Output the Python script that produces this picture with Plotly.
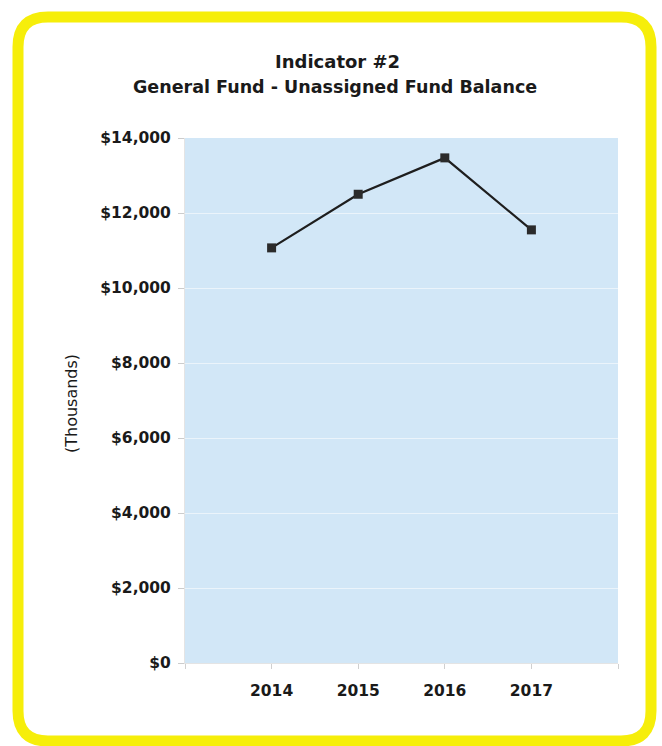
import plotly.graph_objects as go

# Fund balance data (in thousands of dollars)
years = [2014, 2015, 2016, 2017]
balance = [11070, 12500, 13470, 11550]

x_tickvals = [2013, 2014, 2015, 2016, 2017, 2018]
x_ticktext = ["", "2014", "2015", "2016", "2017", ""]
y_tickvals = [0, 2000, 4000, 6000, 8000, 10000, 12000, 14000]
y_ticktext = ["$0", "$2,000", "$4,000", "$6,000", "$8,000", "$10,000", "$12,000", "$14,000"]

W, H = 662, 746
ML, MR, MT, MB = 185, 44, 138, 83
PW, PH = W - ML - MR, H - MT - MB


def px(x):
    return (x - ML) / PW


def py(y):
    return (H - MB - y) / PH


def rounded_rect(x0, y0, x1, y1, r):
    # path in paper coordinates from pixel corners
    pts = [
        f"M {px(x0 + r)} {py(y0)}",
        f"L {px(x1 - r)} {py(y0)}",
        f"Q {px(x1)} {py(y0)} {px(x1)} {py(y0 + r)}",
        f"L {px(x1)} {py(y1 - r)}",
        f"Q {px(x1)} {py(y1)} {px(x1 - r)} {py(y1)}",
        f"L {px(x0 + r)} {py(y1)}",
        f"Q {px(x0)} {py(y1)} {px(x0)} {py(y1 - r)}",
        f"L {px(x0)} {py(y0 + r)}",
        f"Q {px(x0)} {py(y0)} {px(x0 + r)} {py(y0)}",
        "Z",
    ]
    return " ".join(pts)


fig = go.Figure()
fig.add_trace(go.Scatter(
    x=years, y=balance,
    mode="lines+markers",
    line=dict(color="#1e1e1e", width=2.2),
    marker=dict(symbol="square", size=9, color="#2b2b2b"),
    showlegend=False,
    hoverinfo="x+y",
))

fig.update_layout(
    width=W, height=H,
    margin=dict(l=ML, r=MR, t=MT, b=MB),
    paper_bgcolor="white",
    plot_bgcolor="#d2e7f7",
    font=dict(family="DejaVu Sans", color="#1a1a1a"),
    shapes=[dict(
        type="path", xref="paper", yref="paper",
        path=rounded_rect(18, 17, 651, 741, 30),
        line=dict(color="#f6ee0a", width=11),
        fillcolor="rgba(0,0,0,0)",
        layer="below",
    )],
    annotations=[
        dict(text="<b>Indicator #2</b>", xref="paper", yref="paper",
             x=px(337), y=py(62), xanchor="center", yanchor="middle", showarrow=False,
             font=dict(size=18, family="DejaVu Sans", color="#1a1a1a")),
        dict(text="<b>General Fund - Unassigned Fund Balance</b>", xref="paper", yref="paper",
             x=px(335), y=py(87), xanchor="center", yanchor="middle", showarrow=False,
             font=dict(size=17.5, family="DejaVu Sans", color="#1a1a1a")),
        dict(text="(Thousands)", xref="paper", yref="paper",
             x=px(72), y=py(404), xanchor="center", yanchor="middle",
             showarrow=False, textangle=-90,
             font=dict(size=16, family="DejaVu Sans", color="#1a1a1a")),
    ],
)

fig.update_xaxes(
    range=[2013, 2018],
    tickvals=x_tickvals, ticktext=x_ticktext,
    ticks="outside", ticklen=5, tickcolor="#d0d0d0",
    showgrid=False, zeroline=False,
    showline=True, linecolor="#e4e4e4", linewidth=1,
    tickfont=dict(size=15.5, family="DejaVu Sans", color="#1a1a1a", weight="bold"),
    ticklabelstandoff=8,
)
fig.update_yaxes(
    range=[0, 14000],
    tickvals=y_tickvals, ticktext=y_ticktext,
    ticks="outside", ticklen=6, tickcolor="#cccccc",
    showgrid=True, gridcolor="rgba(255,255,255,0.55)", gridwidth=1,
    zeroline=False,
    showline=True, linecolor="#e4e4e4", linewidth=1,
    tickfont=dict(size=15.5, family="DejaVu Sans", color="#1a1a1a", weight="bold"),
    ticklabelstandoff=4,
)

fig.write_html("out.html")
